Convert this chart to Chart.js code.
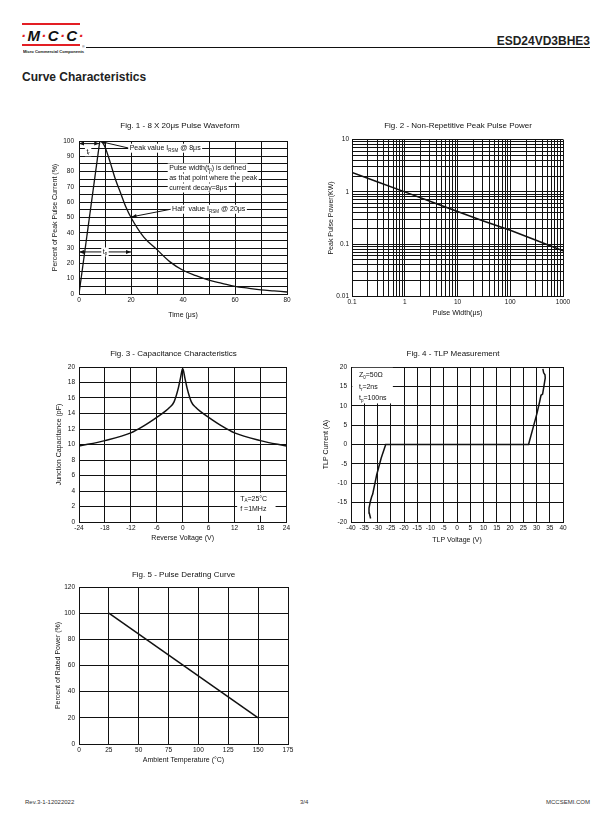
<!DOCTYPE html>
<html><head><meta charset="utf-8">
<script src="https://cdn.jsdelivr.net/npm/chart.js@4.4.1/dist/chart.umd.min.js"></script>
<style>
html,body{margin:0;padding:0;background:#fff;}
body{width:612px;height:825px;position:relative;overflow:hidden;font-family:"Liberation Sans",Arial,sans-serif;color:#111;}
.abs{position:absolute;white-space:nowrap;}
canvas{position:absolute;}
.r{color:#e31e24;}
</style></head><body>
<!-- header -->
<div class="abs" style="left:22px;top:23px;width:58px;height:2px;background:#e31e24"></div>
<div class="abs" style="left:21px;top:27.5px;font:italic bold 15px 'Liberation Sans';line-height:15px;letter-spacing:1.4px;color:#111"><span class="r">·</span>M<span class="r">·</span>C<span class="r">·</span>C<span class="r">·</span></div>
<div class="abs" style="left:22px;top:43.5px;width:58px;height:2px;background:#e31e24"></div>
<div class="abs" style="left:23px;top:49.5px;font:bold 9px 'Liberation Sans';line-height:9px;transform:scale(0.45);transform-origin:0 0;color:#111">Micro Commercial Components</div>
<div class="abs" style="left:82px;top:45px;font:6px 'Liberation Sans';line-height:6px;transform:scale(0.6);transform-origin:0 0">®</div>
<div class="abs" style="left:86px;top:47px;width:504px;height:1px;background:#111"></div>
<div class="abs" style="right:22px;top:34px;font:bold 12px 'Liberation Sans';line-height:14px;color:#222">ESD24VD3BHE3</div>
<div class="abs" style="left:22px;top:70px;font:bold 12px 'Liberation Sans';line-height:14px;color:#222">Curve Characteristics</div>
<!-- footer -->
<div class="abs" style="left:25px;top:798px;font:6px 'Liberation Sans';line-height:8px;color:#333">Rev.3-1-12022022</div>
<div class="abs" style="left:300px;top:798px;font:6px 'Liberation Sans';line-height:8px;color:#333">3/4</div>
<div class="abs" style="right:22px;top:798px;font:6px 'Liberation Sans';line-height:8px;color:#333">MCCSEMI.COM</div>

<canvas id="c1"></canvas><canvas id="c2"></canvas><canvas id="c3"></canvas><canvas id="c4"></canvas><canvas id="c5"></canvas>
<script>
// ---------- DATA ----------
// Fig. 1 - 8 X 20us pulse waveform (rise, then decay)
const riseTime     = [0, 8];
const riseCurrent  = [0, 100];
const decayTime    = [8, 9, 10, 12, 14, 16, 18, 20, 25, 30, 35, 40, 45, 50, 55, 60, 65, 70, 75, 80];
const decayCurrent = [100, 99, 96, 86, 75, 66, 57, 50, 37, 29, 21, 15.5, 12, 9, 7, 5, 3.8, 2.7, 2, 1.3];
const f1XTicks  = [0, 10, 20, 30, 40, 50, 60, 70, 80];
const f1XLabels = ['0', '', '20', '', '40', '', '60', '', '80'];
const f1YTicks  = [0, 5, 10, 15, 20, 25, 30, 35, 40, 45, 50, 55, 60, 65, 70, 75, 80, 85, 90, 95, 100];
const f1YLabels = ['0', '', '10', '', '20', '', '30', '', '40', '', '50', '', '60', '', '70', '', '80', '', '90', '', '100'];

// Fig. 2 - Non-repetitive peak pulse power (log-log)
const pulseWidth = [0.1, 0.3, 1, 3, 10, 30, 100, 300, 1000];
const peakPower  = [2.35, 1.56, 1.0, 0.66, 0.42, 0.28, 0.185, 0.12, 0.075];
const f2XDecades = ['0.1', '1', '10', '100', '1000'];
const f2YDecades = ['0.01', '0.1', '1', '10'];

// Fig. 3 - Capacitance characteristics
const reverseVoltage = [-24, -18, -12, -9, -6, -4, -3, -2, -1, -0.5, 0, 0.5, 1, 2, 3, 4, 6, 9, 12, 18, 24];
const capacitance    = [9.8, 10.5, 11.5, 12.4, 13.5, 14.3, 14.8, 15.5, 17.3, 18.6, 19.8, 18.6, 17.3, 15.5, 14.8, 14.3, 13.5, 12.4, 11.5, 10.5, 9.8];
const f3XTicks = [-24, -18, -12, -6, 0, 6, 12, 18, 24];
const f3YTicks = [0, 2, 4, 6, 8, 10, 12, 14, 16, 18, 20];

// Fig. 4 - TLP measurement
const tlpVoltage = [-32.6, -33.1, -33.2, -32.7, -32.2, -31.8, -31.6, -30.3, -28.6, -26.9, 27, 28.7, 30.2, 31.2, 31.7, 32.3, 32.7, 33.3, 33.2, 32.7, 32.4];
const tlpCurrent = [-19.1, -17.7, -16.4, -14.7, -13.5, -12.8, -12.1, -7.8, -3.5, 0, 0, 4.3, 8.1, 11.1, 12.7, 13.0, 14.6, 17.2, 18.0, 18.5, 19.5];
const f4XTicks = [-40, -35, -30, -25, -20, -15, -10, -5, 0, 5, 10, 15, 20, 25, 30, 35, 40];
const f4YTicks = [-20, -15, -10, -5, 0, 5, 10, 15, 20];

// Fig. 5 - Pulse derating curve
const ambientTemp = [25, 150];
const ratedPower  = [100, 20];
const f5XTicks = [0, 25, 50, 75, 100, 125, 150, 175];
const f5YTicks = [0, 20, 40, 60, 80, 100, 120];

// ---------- HELPERS ----------
const FF = "'Liberation Sans', Arial, sans-serif";
Chart.defaults.font.family = FF;
Chart.defaults.color = '#111';
Chart.defaults.animation = false;

function pts(xs, ys) { return xs.map((x, i) => ({x: x, y: ys[i]})); }
function logTicks(labels) {
  const out = [];
  const d = labels.map(Number);
  for (let k = 0; k < d.length - 1; k++) {
    for (let m = 1; m <= 9; m++) out.push(parseFloat((m * d[k]).toPrecision(4)));
  }
  out.push(d[d.length - 1]);
  return out;
}

function drawArrow(ctx, x1, y1, x2, y2, heads) {
  ctx.strokeStyle = '#111'; ctx.fillStyle = '#111'; ctx.lineWidth = 1;
  ctx.beginPath(); ctx.moveTo(x1, y1); ctx.lineTo(x2, y2); ctx.stroke();
  const head = (xa, ya, xb, yb) => {
    const a = Math.atan2(yb - ya, xb - xa), L = 5, w = 2;
    ctx.beginPath();
    ctx.moveTo(xb, yb);
    ctx.lineTo(xb - L * Math.cos(a) + w * Math.sin(a), yb - L * Math.sin(a) - w * Math.cos(a));
    ctx.lineTo(xb - L * Math.cos(a) - w * Math.sin(a), yb - L * Math.sin(a) + w * Math.cos(a));
    ctx.closePath(); ctx.fill();
  };
  head(x1, y1, x2, y2);
  if (heads === 'both') head(x2, y2, x1, y1);
}
function drawRich(ctx, x, y, segs, align, bg) {
  const nf = '7px ' + FF, sf = '4.5px ' + FF;
  let w = 0;
  const ws = segs.map(s => { ctx.font = s[1] ? sf : nf; const m = ctx.measureText(s[0]).width; w += m; return m; });
  let sx = align === 'center' ? x - w / 2 : x;
  if (bg) { ctx.fillStyle = '#fff'; ctx.fillRect(sx - 1.5, y - 4.5, w + 3, 9); }
  ctx.fillStyle = '#111'; ctx.textBaseline = 'middle'; ctx.textAlign = 'left';
  segs.forEach((s, i) => { ctx.font = s[1] ? sf : nf; ctx.fillText(s[0], sx, s[1] ? y + 2.2 : y); sx += ws[i]; });
}
function notesPlugin(items) {
  return { id: 'notes', beforeDatasetsDraw(chart) {
    const ctx = chart.ctx, xs = chart.scales.x, ys = chart.scales.y;
    const px = v => xs.getPixelForValue(v), py = v => ys.getPixelForValue(v);
    ctx.save();
    for (const it of items) {
      if (it.kind === 'box') {
        const a = px(it.x1), b = px(it.x2), c = py(it.y1), d = py(it.y2);
        ctx.fillStyle = '#fff';
        ctx.fillRect(Math.min(a, b), Math.min(c, d), Math.abs(b - a), Math.abs(d - c));
      } else if (it.kind === 'arrow') {
        drawArrow(ctx, px(it.x1), py(it.y1), px(it.x2), py(it.y2), it.heads);
      } else {
        drawRich(ctx, px(it.x), py(it.y), it.segs, it.align, it.bg);
      }
    }
    ctx.restore();
  }};
}

function axis(o) {
  return {
    type: o.type || 'linear', min: o.min, max: o.max, position: o.position,
    afterBuildTicks: sc => { sc.ticks = o.ticks.map(v => ({value: v})); },
    ticks: { autoSkip: false, maxRotation: 0, minRotation: 0, padding: o.pad, font: {size: 6.5}, color: '#111',
             callback: o.cb || ((v, i) => o.labels ? o.labels[i] : String(o.ticks[i])) },
    grid: { color: '#111', lineWidth: 1, drawTicks: false },
    border: { color: '#111', width: 1 },
    title: { display: true, text: o.title, font: {size: 7}, color: '#111', padding: 0 },
    afterFit: o.fit
  };
}

function build(id, box, xo, yo, datasets, title, plugins) {
  const cl = Math.round(box.ytc - 4.2);
  const ct = Math.round(box.tcy - 4.8);
  const W = Math.round(2 * (box.tcx - cl));
  const H = Math.round(box.xtc + 4.2 - ct);
  const yW = box.L - cl, padR = cl + W - box.R, xH = ct + H - box.B, tPad = box.T - ct - 9.6;
  const cv = document.getElementById(id);
  cv.width = W; cv.height = H;
  cv.style.left = cl + 'px'; cv.style.top = ct + 'px';
  cv.style.width = W + 'px'; cv.style.height = H + 'px';
  xo.fit = sc => { sc.height = xH; };
  yo.fit = sc => { sc.width = yW; };
  xo.position = 'bottom'; yo.position = 'left';
  return new Chart(cv, {
    type: 'scatter',
    data: { datasets: datasets },
    options: {
      responsive: false, devicePixelRatio: 1, animation: false,
      layout: { padding: 0 },
      plugins: {
        legend: { display: false }, tooltip: { enabled: false },
        title: { display: true, text: title, font: {size: 8, weight: 'normal'}, color: '#111', padding: {top: 0, bottom: tPad} }
      },
      scales: {
        x: axis(xo), y: axis(yo),
        pad: { type: 'linear', position: 'right', display: true, ticks: {display: false}, grid: {display: false, drawTicks: false},
               border: {display: false}, title: {display: false}, afterFit: sc => { sc.width = padR; } }
      }
    },
    plugins: plugins || []
  });
}
function lineDs(data, extra) {
  return Object.assign({ data: data, showLine: true, borderColor: '#111', borderWidth: 1.5, pointRadius: 0, fill: false, tension: 0 }, extra || {});
}

// ---------- FIG 1 ----------
build('c1', {L: 79, R: 287, T: 141, B: 294, tcx: 180, tcy: 126, ytc: 55, xtc: 315},
  {min: 0, max: 80, ticks: f1XTicks, labels: f1XLabels, title: 'Time (\u03bcs)', pad: 2},
  {min: 0, max: 100, ticks: f1YTicks, labels: f1YLabels, title: 'Percent of Peak Pulse Current (%)', pad: 5},
  [lineDs(pts(riseTime, riseCurrent), {borderWidth: 1.3}),
   lineDs(pts(decayTime, decayCurrent), {borderWidth: 1.3, cubicInterpolationMode: 'monotone'})],
  'Fig. 1 - 8 X 20\u03bcs Pulse Waveform',
  [notesPlugin([
    {kind: 'arrow', x1: 19.3, y1: 95.3, x2: 8.6, y2: 99.5},
    {kind: 'text', x: 19.5, y: 95.3, segs: [['Peak value I'], ['RSM', 1], [' @ 8\u03bcs']], bg: true},
    {kind: 'arrow', x1: 0, y1: 98.3, x2: 7.8, y2: 98.3, heads: 'both'},
    {kind: 'text', x: 3.5, y: 93, segs: [['t'], ['r', 1]], align: 'center', bg: true},
    {kind: 'text', x: 34.7, y: 82.4, segs: [['Pulse width(t'], ['p', 1], [') is defined']], bg: true},
    {kind: 'text', x: 34.7, y: 75.8, segs: [['as that point where the peak']], bg: true},
    {kind: 'text', x: 34.7, y: 69.3, segs: [['current decay=8\u03bcs']], bg: true},
    {kind: 'arrow', x1: 35.3, y1: 55.4, x2: 20.2, y2: 50.4},
    {kind: 'text', x: 35.8, y: 55.4, segs: [['Half  value I'], ['RSM', 1], [' @ 20\u03bcs']], bg: true},
    {kind: 'arrow', x1: 0, y1: 27.5, x2: 20, y2: 27.5, heads: 'both'},
    {kind: 'text', x: 10, y: 27.5, segs: [['t'], ['p', 1]], align: 'center', bg: true}
  ])]);

// ---------- FIG 2 ----------
const f2XVals = logTicks(f2XDecades), f2YVals = logTicks(f2YDecades);
build('c2', {L: 352, R: 563, T: 139.5, B: 296.5, tcx: 458, tcy: 126, ytc: 330.7, xtc: 313},
  {type: 'logarithmic', min: 0.1, max: 1000, ticks: f2XVals, title: 'Pulse Width(\u03bcs)', pad: 2,
   cb: (v, i) => { const t = String(f2XVals[i]); return f2XDecades.includes(t) ? t : ''; }},
  {type: 'logarithmic', min: 0.01, max: 10, ticks: f2YVals, title: 'Peak Pulse Power(KW)', pad: 3,
   cb: (v, i) => { const t = String(f2YVals[i]); return f2YDecades.includes(t) ? t : ''; }},
  [lineDs(pts(pulseWidth, peakPower))],
  'Fig. 2 - Non-Repetitive Peak Pulse Power');

// ---------- FIG 3 ----------
build('c3', {L: 79, R: 287, T: 367, B: 522, tcx: 173.5, tcy: 354, ytc: 59.3, xtc: 538},
  {min: -24, max: 24, ticks: f3XTicks, title: 'Reverse Voltage (V)', pad: 2},
  {min: 0, max: 20, ticks: f3YTicks, title: 'Junction Capacitance (pF)', pad: 4},
  [lineDs(pts(reverseVoltage, capacitance), {cubicInterpolationMode: 'monotone'})],
  'Fig. 3 - Capacitance Characteristics',
  [notesPlugin([
    {kind: 'box', x1: 12.6, y1: 0.8, x2: 21.5, y2: 3.8},
    {kind: 'text', x: 13.3, y: 3.0, segs: [['T'], ['A', 1], ['=25\u00b0C']]},
    {kind: 'text', x: 13.3, y: 1.65, segs: [['f =1MHz']]}
  ])]);

// ---------- FIG 4 ----------
build('c4', {L: 351, R: 563, T: 367, B: 522, tcx: 453, tcy: 354, ytc: 326, xtc: 540},
  {min: -40, max: 40, ticks: f4XTicks, title: 'TLP Voltage (V)', pad: 2},
  {min: -20, max: 20, ticks: f4YTicks, title: 'TLP Current (A)', pad: 4},
  [lineDs(pts(tlpVoltage, tlpCurrent))],
  'Fig. 4 - TLP Measurement',
  [notesPlugin([
    {kind: 'box', x1: -39.5, y1: 10.6, x2: -24.2, y2: 19.8},
    {kind: 'text', x: -37, y: 17.9, segs: [['Z'], ['0', 1], ['=50\u03a9']]},
    {kind: 'text', x: -37, y: 14.8, segs: [['t'], ['r', 1], ['=2ns']]},
    {kind: 'text', x: -37, y: 11.9, segs: [['t'], ['p', 1], ['=100ns']]}
  ])]);

// ---------- FIG 5 ----------
build('c5', {L: 79, R: 288, T: 587, B: 744, tcx: 183.3, tcy: 574.3, ytc: 58.3, xtc: 760},
  {min: 0, max: 175, ticks: f5XTicks, title: 'Ambient Temperature (\u00b0C)', pad: 2},
  {min: 0, max: 120, ticks: f5YTicks, title: 'Percent of Rated Power (%)', pad: 4},
  [lineDs(pts(ambientTemp, ratedPower))],
  'Fig. 5 - Pulse Derating Curve');
</script>
</body></html>
